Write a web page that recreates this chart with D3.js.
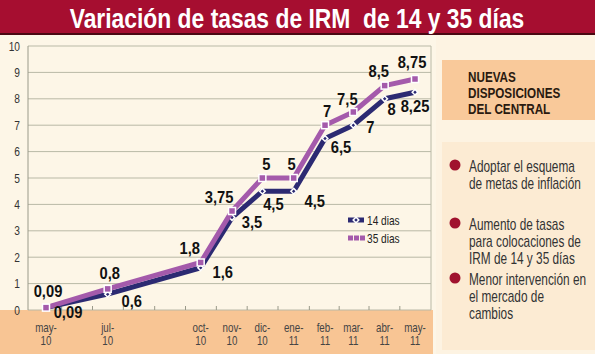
<!DOCTYPE html>
<html>
<head>
<meta charset="utf-8">
<script src="https://cdn.jsdelivr.net/npm/d3@7"></script>
<style>
  body { margin: 0; background: #fdf6e7; }
  svg { display: block; }
  text { font-family: "Liberation Sans", Arial, sans-serif; }
</style>
</head>
<body>
<div id="chart"></div>
<script>
const width = 595;
const height = 354;

// data
const months = ["2010-05", "2010-07", "2010-10", "2010-11", "2010-12", "2011-01", "2011-02", "2011-03", "2011-04", "2011-05"];
const monthLabels = [["may-", "10"], ["jul-", "10"], ["oct-", "10"], ["nov-", "10"], ["dic-", "10"], ["ene-", "11"], ["feb-", "11"], ["mar-", "11"], ["abr-", "11"], ["may-", "11"]];
const tasa14 = [0.09, 0.6, 1.6, 3.5, 4.5, 4.5, 6.5, 7, 8, 8.25];
const tasa35 = [0.09, 0.8, 1.8, 3.75, 5, 5, 7, 7.5, 8.5, 8.75];
const labels14 = ["0,09", "0,6", "1,6", "3,5", "4,5", "4,5", "6,5", "7", "8", "8,25"];
const labels35 = ["0,09", "0,8", "1,8", "3,75", "5", "5", "7", "7,5", "8,5", "8,75"];
const yTicks = [0, 1, 2, 3, 4, 5, 6, 7, 8, 9, 10];
const seriesNames = ["14 dias", "35 dias"];
const panelTitle = ["NUEVAS", "DISPOSICIONES", "DEL CENTRAL"];
const bullets = [
  ["Adoptar el esquema", "de metas de inflación"],
  ["Aumento de tasas", "para colocaciones de", "IRM de 14 y 35 días"],
  ["Menor intervención en", "el mercado de", "cambios"]
];

// label placement (offset from the point)
const off14 = [[22, 10], [24, 13], [22, 10], [20, 10], [11, 19], [21, 16], [16, 15], [17, 8], [7, 16], [0, 20]];
const off35 = [[2, -11], [2, -10], [-11, -8], [-13, -8], [4, -8], [-2, -8], [2, -8], [-6, -7], [-6, -9], [-3, -11]];

const parse = d3.timeParse("%Y-%m");
const dates = months.map(parse);

const navy = "#2c2a72";
const purple = "#a45aab";

const svg = d3.select("#chart").append("svg")
  .attr("width", width)
  .attr("height", height);

// narrow text: the original uses a condensed face, so squeeze horizontally
const narrowText = (parent, x, y, lines, sx, size, weight, fill, lh) => {
  const t = parent.append("text")
    .attr("transform", `translate(${x},${y}) scale(${sx},1)`)
    .attr("font-size", size).attr("font-weight", weight).attr("fill", fill);
  t.selectAll("tspan").data(lines).join("tspan")
    .attr("x", 0).attr("dy", (d, i) => i ? lh : 0).text(d => d);
  return t;
};

// background
svg.append("rect").attr("width", width).attr("height", height).attr("fill", "#fdf6e7");

// title bar
svg.append("rect").attr("x", 0).attr("y", 0).attr("width", width).attr("height", 33).attr("fill", "#a60e30");
svg.append("rect").attr("x", 0).attr("y", 33).attr("width", width).attr("height", 2).attr("fill", "#4a0812");
const title = svg.append("text")
  .attr("text-anchor", "middle")
  .attr("font-size", 27).attr("font-weight", "bold")
  .attr("fill", "#fff")
  .style("white-space", "pre")
  .text("Variación de tasas de IRM  de 14 y 35 días");
const tw = title.node().getComputedTextLength();
title.attr("transform", `translate(297,28) scale(${455 / tw},1)`);

// scales
const x = d3.scaleTime()
  .domain([dates[0], dates[dates.length - 1]])
  .range([46, 415]);
const y = d3.scaleLinear().domain([0, 10]).range([310, 46]);
const plotLeft = 28, plotRight = 431;

// bottom band
svg.append("rect").attr("x", 0).attr("y", y(0)).attr("width", 433).attr("height", height - y(0)).attr("fill", "#f8c594");

// grid
svg.append("g").selectAll("line").data(yTicks).join("line")
  .attr("x1", plotLeft).attr("x2", plotRight)
  .attr("y1", d => y(d)).attr("y2", d => y(d))
  .attr("stroke", "#b9b9a6").attr("stroke-width", 1);
svg.append("line").attr("x1", plotLeft).attr("x2", plotLeft).attr("y1", y(10)).attr("y2", y(0)).attr("stroke", "#9a9a8a");
svg.append("line").attr("x1", plotRight).attr("x2", plotRight).attr("y1", y(10)).attr("y2", y(0)).attr("stroke", "#b9b9a6");

// y axis labels
svg.append("g").selectAll("text").data(yTicks).join("text")
  .attr("transform", d => `translate(20,${y(d) + 4.5}) scale(0.85,1)`)
  .attr("text-anchor", "end")
  .attr("font-size", 12).attr("fill", "#333")
  .text(d => d);

// x ticks between months
const allMonths = d3.timeMonth.range(dates[0], d3.timeMonth.offset(dates[dates.length - 1], 1));
const midTicks = allMonths.slice(0, -1).map((d, i) => (x(d) + x(allMonths[i + 1])) / 2);
svg.append("g").selectAll("line").data(midTicks).join("line")
  .attr("x1", d => d).attr("x2", d => d)
  .attr("y1", y(0)).attr("y2", y(0) - 4)
  .attr("stroke", "#9a9a8a");

// x labels
const xl = svg.append("g").selectAll("text").data(dates).join("text")
  .attr("transform", d => `translate(${x(d)},332) scale(0.75,1)`)
  .attr("text-anchor", "middle")
  .attr("font-size", 13)
  .attr("fill", "#444");
xl.append("tspan").attr("x", 0).text((d, i) => monthLabels[i][0]);
xl.append("tspan").attr("x", 0).attr("dy", 13.5).text((d, i) => monthLabels[i][1]);

// lines
const line = d3.line().x((d, i) => x(dates[i])).y(d => y(d));

svg.append("path").datum(tasa14)
  .attr("d", line).attr("fill", "none")
  .attr("stroke", navy).attr("stroke-width", 5).attr("stroke-linejoin", "round");
svg.append("g").selectAll("path").data(tasa14).join("path")
  .attr("transform", (d, i) => `translate(${x(dates[i])},${y(d)}) rotate(45)`)
  .attr("d", "M-2,-2H2V2H-2Z")
  .attr("fill", navy).attr("stroke", "#fff").attr("stroke-width", 1.5);

svg.append("path").datum(tasa35)
  .attr("d", line).attr("fill", "none")
  .attr("stroke", purple).attr("stroke-width", 5).attr("stroke-linejoin", "round");
svg.append("g").selectAll("rect").data(tasa35).join("rect")
  .attr("x", (d, i) => x(dates[i]) - 3.5).attr("y", d => y(d) - 3.5)
  .attr("width", 7).attr("height", 7)
  .attr("fill", purple).attr("stroke", "#fff").attr("stroke-width", 1.5);

// value labels
const valueLabel = (vals, txt, offs) => {
  svg.append("g").selectAll("text").data(vals).join("text")
    .attr("transform", (d, i) => `translate(${x(dates[i]) + offs[i][0]},${y(d) + offs[i][1]}) scale(0.92,1)`)
    .attr("text-anchor", "middle")
    .attr("font-size", 16).attr("font-weight", "bold")
    .attr("fill", "#111")
    .text((d, i) => txt[i]);
};
valueLabel(tasa14, labels14, off14);
valueLabel(tasa35, labels35, off35);

// legend
const lg = svg.append("g").attr("transform", "translate(348,220)");
lg.append("line").attr("x1", 0).attr("x2", 16).attr("y1", 0).attr("y2", 0).attr("stroke", navy).attr("stroke-width", 5);
lg.append("path").attr("transform", "translate(8,0) rotate(45)").attr("d", "M-2,-2H2V2H-2Z").attr("fill", navy).attr("stroke", "#fff").attr("stroke-width", 1.5);
narrowText(lg, 19, 5, [seriesNames[0]], 0.78, 13, "normal", "#222", 0);
[0, 6, 12].forEach(dx => lg.append("rect").attr("x", dx).attr("y", 15.5).attr("width", 5).attr("height", 5).attr("fill", purple));
narrowText(lg, 19, 23, [seriesNames[1]], 0.78, 13, "normal", "#222", 0);

// right panel
svg.append("rect").attr("x", 436).attr("y", 35).attr("width", width - 436).attr("height", height - 35).attr("fill", "#fdf3e2");
svg.append("rect").attr("x", 442).attr("y", 60).attr("width", width - 442).attr("height", 60).attr("fill", "#f9c99a");
narrowText(svg, 468, 82, panelTitle, 0.78, 15, "bold", "#2a1a10", 16);

svg.append("rect").attr("x", 442).attr("y", 142).attr("width", width - 442).attr("height", 208).attr("fill", "#fcebd3");
const bulletY = [165, 223, 278];
bullets.forEach((lines, k) => {
  svg.append("circle").attr("cx", 455).attr("cy", bulletY[k]).attr("r", 5.5).attr("fill", "#a0122e");
  narrowText(svg, 469, bulletY[k] + 7, lines, 0.74, 16, "normal", "#333", 17);
});
</script>
</body>
</html>
